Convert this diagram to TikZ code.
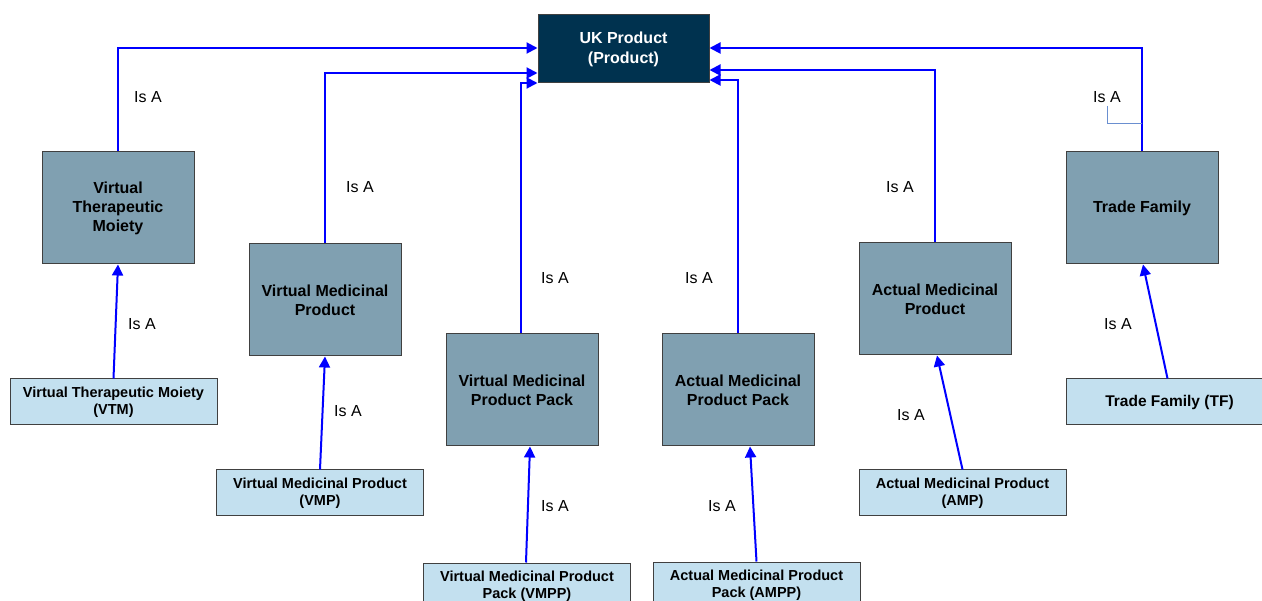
\documentclass[tikz,border=0pt]{standalone}
\usepackage{fontspec}
\setmainfont{Liberation Sans}
\usetikzlibrary{arrows.meta}
\definecolor{navy}{HTML}{00324F}
\definecolor{bigfill}{HTML}{80A0B1}
\definecolor{smallfill}{HTML}{C3E0EF}
\definecolor{edge}{HTML}{404040}
\definecolor{arrblue}{RGB}{0,0,255}
\definecolor{thinblue}{HTML}{6A8FD0}
\tikzset{
  top/.style={draw=edge, line width=1pt, fill=navy, text=white, minimum width=171pt, minimum height=68pt, align=center, inner sep=0pt, font=\fontsize{16}{20}\selectfont\bfseries},
  big/.style={draw=edge, line width=1pt, fill=bigfill, minimum width=152pt, minimum height=112pt, align=center, inner sep=0pt, font=\fontsize{16}{19}\selectfont\bfseries},
  small/.style={draw=edge, line width=1pt, fill=smallfill, minimum width=207pt, minimum height=46pt, align=center, inner sep=0pt, font=\fontsize{14.5}{17}\selectfont\bfseries},
  lbl/.style={font=\fontsize{16}{18}\selectfont, inner sep=0pt},
  arr/.style={draw=arrblue, line width=2pt, -{Triangle[length=11pt,width=11pt]}},
}
\begin{document}
\begin{tikzpicture}[x=1pt,y=-1pt]
\useasboundingbox (0,0) rectangle (1262,601);
% top
\node[top] (uk) at (623.5,49) {UK Product\\(Product)};
% big boxes
\node[big] (vtm) at (118,208) {Virtual\\Therapeutic\\Moiety};
\node[big] (vmp) at (325,300) {Virtual Medicinal\\Product};
\node[big] (vmpp) at (522,390) {Virtual Medicinal\\Product Pack};
\node[big] (ampp) at (738,390) {Actual Medicinal\\Product Pack};
\node[big] (amp) at (935,299) {Actual Medicinal\\Product};
\node[big] (tf) at (1142,208) {Trade Family};
% small boxes
\node[small] (svtm) at (113.5,402) {Virtual Therapeutic Moiety\\(VTM)};
\node[small] (svmp) at (320,493) {Virtual Medicinal Product\\(VMP)};
\node[small] (svmpp) at (527,586) {Virtual Medicinal Product\\Pack (VMPP)};
\node[small] (sampp) at (756.5,585) {Actual Medicinal Product\\Pack (AMPP)};
\node[small] (samp) at (962.5,493) {Actual Medicinal Product\\(AMP)};
\node[small, font=\fontsize{15.5}{17}\selectfont\bfseries] (stf) at (1169.5,402) {Trade Family (TF)};
% small -> big
\draw[arr] (svtm.north) -- (vtm.south);
\draw[arr] (svmp.north) -- (vmp.south);
\draw[arr] ([xshift=-1pt]svmpp.north) -- ([xshift=8pt]vmpp.south);
\draw[arr] (sampp.north) -- ([xshift=12pt]ampp.south);
\draw[arr] (samp.north) -- ([xshift=2pt]amp.south);
\draw[arr] ([xshift=-2pt]stf.north) -- ([xshift=1pt]tf.south);
% big -> top
\draw[arr] (vtm.north) |- (uk.west |- 0,48);
\draw[arr] (vmp.north) |- (uk.west |- 0,73);
\draw[arr] ([xshift=-1pt]vmpp.north) |- (uk.west |- 0,83);
\draw[arr] (ampp.north) |- (uk.east |- 0,80);
\draw[arr] (amp.north) |- (uk.east |- 0,70);
\draw[arr] (tf.north) |- (uk.east |- 0,48);
% labels
\node[lbl] (l1) at (148,97) {Is A};
\node[lbl] (l2) at (360,187) {Is A};
\node[lbl] (l3) at (555,278) {Is A};
\node[lbl] (l4) at (699,278) {Is A};
\node[lbl] (l5) at (900,187) {Is A};
\node[lbl] (l6) at (1107,97) {Is A};
\node[lbl] (l7) at (142,324) {Is A};
\node[lbl] (l8) at (348,411) {Is A};
\node[lbl] (l9) at (555,506) {Is A};
\node[lbl] (l10) at (722,506) {Is A};
\node[lbl] (l11) at (911,415) {Is A};
\node[lbl] (l12) at (1118,324) {Is A};
\coordinate (tfc) at (1142,123);
\draw[thinblue, line width=0.8pt] ([yshift=-3pt]l6.south) |- (tfc);
\end{tikzpicture}
\end{document}
